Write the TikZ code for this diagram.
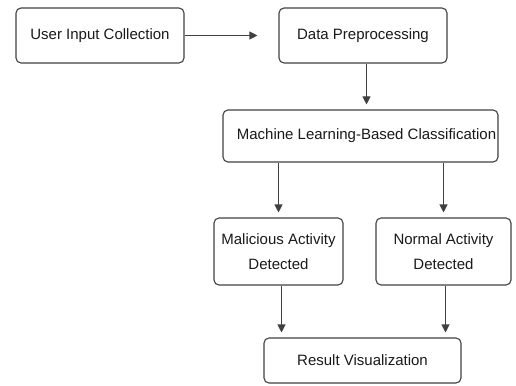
\documentclass[tikz,border=0pt]{standalone}
\usepackage{fontspec}
\setmainfont{Liberation Sans}
\usetikzlibrary{arrows.meta}
\begin{document}
\begin{tikzpicture}[x=1pt,y=-1pt,
  every node/.style={font={\fontsize{15}{25}\selectfont},text=black!90},
  stage/.style={draw=black!75,line width=1.1pt,rounded corners=5pt,align=center,inner sep=0pt},
  flow/.style={-{Triangle[length=8pt,width=8pt]},draw=black!75,line width=1.1pt,shorten >=5pt}]
\useasboundingbox (0,0) rectangle (516,385);
% pipeline stages
\node[stage,minimum width=168pt,minimum height=55pt] (input) at (100,35.5) {User Input Collection};
\node[stage,minimum width=168pt,minimum height=55pt] (prep) at (363,35.5) {Data Preprocessing};
\node[stage,minimum width=275pt,minimum height=52pt] (classify) at (360.5,136) {\hspace{12pt}Machine Learning-Based Classification};
\node[stage,minimum width=129pt,minimum height=67pt] (malicious) at (278.5,251.5) {Malicious Activity\\Detected};
\node[stage,minimum width=135pt,minimum height=67pt] (normal) at (443.5,251.5) {Normal Activity\\Detected};
\node[stage,minimum width=197pt,minimum height=45pt] (result) at (362.5,360.5) {Result Visualization};
% connectors
\draw[flow,shorten >=21pt] (input) -- (prep);
\draw[flow] ([xshift=3.5pt]prep.south) -- ([xshift=3.5pt]prep.south |- classify.north);
\draw[flow] (classify.south -| malicious) -- (malicious.north);
\draw[flow] (classify.south -| normal) -- (normal.north);
\draw[flow] ([xshift=3pt]malicious.south) -- ([xshift=3pt]malicious.south |- result.north);
\draw[flow] ([xshift=2pt]normal.south) -- ([xshift=2pt]normal.south |- result.north);
\end{tikzpicture}
\end{document}
